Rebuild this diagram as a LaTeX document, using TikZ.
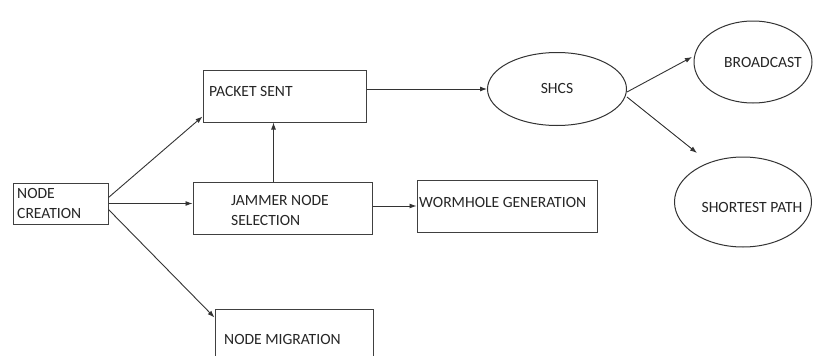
\documentclass[tikz,border=0pt]{standalone}
\usepackage{fontspec}
\setmainfont{Carlito}
\usetikzlibrary{shapes.geometric,arrows.meta,calc}
\begin{document}
\begin{tikzpicture}[x=1pt,y=-1pt,
  box/.style={draw=black!75,line width=1pt,rectangle,inner sep=0pt},
  oval/.style={draw=black!80,line width=1pt,ellipse,inner sep=0pt},
  lbl/.style={font=\fontsize{15.6}{20}\selectfont,text=black!85,inner sep=0pt},
  conn/.style={draw=black!80,line width=0.9pt,-{Latex[length=7pt,width=5pt]}}]
\useasboundingbox (0,0) rectangle (814,356);
\fill[white] (0,0) rectangle (814,356);
% boxes
\node[box,minimum width=95pt,minimum height=41pt] (nc) at (60.5,203.5) {};
\node[box,minimum width=163pt,minimum height=52pt] (ps) at (284.5,96) {};
\node[box,minimum width=179pt,minimum height=52pt] (js) at (282.5,208) {};
\node[box,minimum width=180pt,minimum height=52pt] (wg) at (507,206) {};
\node[box,minimum width=158pt,minimum height=52pt] (nm) at (294,335) {};
% ellipses
\node[oval,minimum width=139pt,minimum height=73pt] (shcs) at (557,89) {};
\node[oval,minimum width=118pt,minimum height=82pt] (bc) at (753,62) {};
\node[oval,minimum width=137pt,minimum height=90pt] (sp) at (743,202) {};
% labels
\node[lbl,anchor=base west] (tnc1) at (17,198) {NODE};
\node[lbl,anchor=base west] (tnc2) at (17,218) {CREATION};
\node[lbl,anchor=base west] (tps) at (209,96) {PACKET SENT};
\node[lbl,anchor=base west] (tjs1) at (231,205) {JAMMER NODE};
\node[lbl,anchor=base west] (tjs2) at (231,225) {SELECTION};
\node[lbl,anchor=base west] (twg) at (419,207) {WORMHOLE GENERATION};
\node[lbl,anchor=base west] (tnm) at (224,344) {NODE MIGRATION};
\node[lbl] (tshcs) at (557,88) {SHCS};
\node[lbl] (tbc) at (763,62) {BROADCAST};
\node[lbl] (tsp) at (752,207) {SHORTEST PATH};
% connector ends
\coordinate (bctip) at (692,57);
\coordinate (sptip) at (697,153);
% connectors
\draw[conn] ([yshift=6pt]nc.east) -- ([yshift=6pt]ps.south west);
\draw[conn] (nc.east) -- (nc.east -| js.west);
\draw[conn] ([yshift=-6pt]nc.east) -- ([yshift=-9pt]nm.north west);
\draw[conn] ([xshift=-9pt]js.north) -- ([xshift=-9pt]js.north |- ps.south);
\draw[conn] ([yshift=2pt]js.east) -- ([yshift=2pt]js.east -| wg.west);
\draw[conn] (ps.east |- shcs.west) -- (shcs.west);
\draw[conn] ([yshift=-3pt]shcs.east) -- (bctip);
\draw[conn] ([yshift=-8pt]shcs.east) -- (sptip);
\end{tikzpicture}
\end{document}
